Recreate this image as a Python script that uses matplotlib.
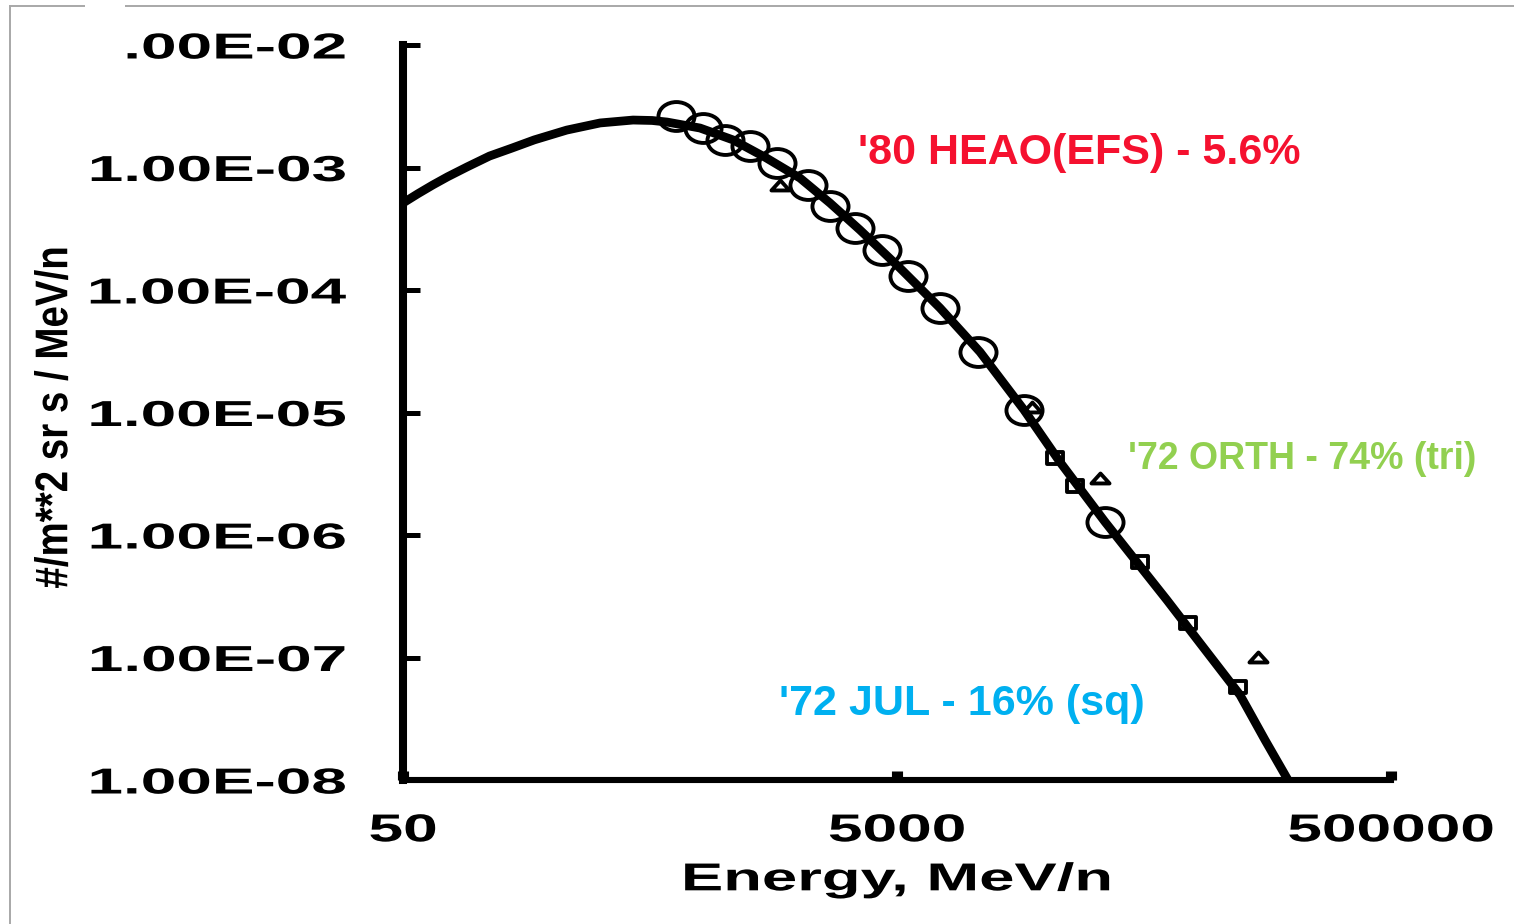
import numpy as np
import matplotlib
matplotlib.use("Agg")
import matplotlib.pyplot as plt
from matplotlib.path import Path
from matplotlib.patheffects import AbstractPathEffect
from matplotlib.transforms import Affine2D
from matplotlib.lines import Line2D
from matplotlib.patches import Rectangle

# ---------------- data ----------------
curve_E = [50, 57.4, 66.0, 75.8, 90.8, 112, 138, 170, 230, 314, 427, 510, 586,
           797, 1084, 1475, 2024, 2677, 3540, 5140, 7467, 10840, 16330, 22850,
           34760, 48150, 61950, 84300, 122400, 154500, 191400]
curve_F = [5.13e-4, 6.1e-4, 7.2e-4, 8.4e-4, 1.01e-3, 1.24e-3, 1.44e-3, 1.68e-3,
           2.02e-3, 2.31e-3, 2.44e-3, 2.42e-3, 2.35e-3, 2.1e-3, 1.68e-3, 1.2e-3,
           8.2e-4, 5.13e-4, 3.09e-4, 1.51e-4, 7.13e-5, 3.12e-5, 1.05e-5, 3.94e-6,
           1.28e-6, 5.58e-7, 2.94e-7, 1.31e-7, 4.94e-8, 2.12e-8, 1.0e-8]

heao_E = [637, 820, 1007, 1271, 1633, 2180, 2677, 3381, 4345, 5545, 7467, 10640,
          16330, 34760]
heao_F = [2.63e-3, 2.1e-3, 1.68e-3, 1.5e-3, 1.09e-3, 7.2e-4, 4.85e-4, 3.2e-4,
          2.12e-4, 1.3e-4, 7.1e-5, 3.12e-5, 1.05e-5, 1.28e-6]

orth_E = [1680, 17600, 33170, 144800]
orth_F = [7.2e-4, 1.11e-5, 2.9e-6, 1.01e-7]

jul_E = [21800, 26300, 48150, 75300, 120000]
jul_F = [4.25e-6, 2.5e-6, 6.0e-7, 1.9e-7, 5.75e-8]

x_ticks = [50, 5000, 500000]
x_ticklabels = ["50", "5000", "500000"]
y_ticks = [1e-2, 1e-3, 1e-4, 1e-5, 1e-6, 1e-7, 1e-8]
y_ticklabels = ["1.00E-02", "1.00E-03", "1.00E-04", "1.00E-05",
                "1.00E-06", "1.00E-07", "1.00E-08"]

x_title = "Energy, MeV/n"
y_title = "#/m**2 sr s / MeV/n"
notes = ["'80 HEAO(EFS) - 5.6%", "'72 ORTH - 74% (tri)", "'72 JUL - 16% (sq)"]
note_colors = ["#f5112f", "#92d050", "#00b0f0"]
note_sizes = [31, 27, 31]


# ---------------- helpers ----------------
class Stretch(AbstractPathEffect):
    """Stretch glyph outlines along the text direction (wide/narrow lettering)."""
    def __init__(self, factor, anchor="center", vertical=False):
        super().__init__()
        self.factor = factor
        self.anchor = anchor
        self.vertical = vertical

    def draw_path(self, renderer, gc, tpath, affine, rgbFace=None):
        ext = tpath.get_extents(affine)
        if self.vertical:
            c = (ext.y0 + ext.y1) / 2
            t = affine + Affine2D().translate(0, -c).scale(1, self.factor).translate(0, c)
        else:
            c = {"left": ext.x0, "right": ext.x1,
                 "center": (ext.x0 + ext.x1) / 2}[self.anchor]
            t = affine + Affine2D().translate(-c, 0).scale(self.factor, 1).translate(c, 0)
        renderer.draw_path(gc, tpath, t, rgbFace)


circ = Path.unit_circle()
ellipse_marker = Path(circ.vertices * np.array([1.0, 0.8]), circ.codes)
rect_marker = Path([(-1, -0.75), (1, -0.75), (1, 0.75), (-1, 0.75), (-1, -0.75)],
                   [Path.MOVETO, Path.LINETO, Path.LINETO, Path.LINETO, Path.CLOSEPOLY])
tri_marker = Path([(-1, -0.55), (1, -0.55), (0, 0.55), (-1, -0.55)],
                  [Path.MOVETO, Path.LINETO, Path.LINETO, Path.CLOSEPOLY])

# ---------------- figure ----------------
W, H = 1514, 924
fig = plt.figure(figsize=(W / 100, H / 100), dpi=100)
fig.patch.set_facecolor("white")

ax_l, ax_r, ax_b, ax_t = 403, 1391, 780, 45
ax = fig.add_axes([ax_l / W, 1 - ax_b / H, (ax_r - ax_l) / W, (ax_b - ax_t) / H])
ax.set_xscale("log")
ax.set_yscale("log")
ax.set_xlim(50, 500000)
ax.set_ylim(1e-8, 1e-2)

ax.plot(curve_E, curve_F, color="black", lw=6.3, solid_capstyle="butt",
        solid_joinstyle="round", zorder=3)
ax.plot(heao_E, heao_F, ls="none", marker=ellipse_marker, ms=26, mfc="none",
        mec="black", mew=2.8, zorder=4, clip_on=False)
ax.plot(orth_E, orth_F, ls="none", marker=tri_marker, ms=13, mfc="none",
        mec="black", mew=2.8, zorder=4, clip_on=False)
ax.plot(jul_E, jul_F, ls="none", marker=rect_marker, ms=12, mfc="none",
        mec="black", mew=2.8, zorder=4, clip_on=False)

# spines
for s in ("top", "right"):
    ax.spines[s].set_visible(False)
ax.spines["left"].set_linewidth(5.8)
ax.spines["bottom"].set_linewidth(4.4)

ax.minorticks_off()
ax.set_xticks(x_ticks)
ax.set_xticklabels(x_ticklabels)
ax.set_yticks(y_ticks)
ax.set_yticklabels(y_ticklabels)
ax.tick_params(axis="y", which="major", direction="in", length=12, width=3.6,
               pad=41, labelsize=26)
ax.tick_params(axis="x", which="major", direction="in", length=6.5, width=8,
               pad=24, labelsize=28)
ax.tick_params(which="minor", length=0)

for lab in ax.get_yticklabels():
    lab.set_fontfamily("Liberation Sans")
    lab.set_fontweight("bold")
    lab.set_path_effects([Stretch(1.77, "right")])
for lab in ax.get_xticklabels():
    lab.set_fontfamily("Liberation Sans")
    lab.set_fontweight("bold")
    lab.set_path_effects([Stretch(1.6, "center")])

ax.set_xlabel(x_title, fontfamily="Liberation Sans", fontweight="bold", fontsize=28,
              path_effects=[Stretch(1.63, "center")])
ax.xaxis.set_label_coords(0.5, -0.112)
ax.set_ylabel(y_title, fontfamily="Liberation Sans", fontweight="bold", fontsize=33,
              path_effects=[Stretch(0.84, vertical=True)])
ax.yaxis.label.set_verticalalignment("center")
ax.yaxis.set_label_coords(-0.352, (ax_b - 417) / (ax_b - ax_t))

# annotations (left x, baseline y in pixels -> axes fraction)
note_pos = [(858, 164), (1128, 469), (779, 715)]
for txt, col, fs, (px, py) in zip(notes, note_colors, note_sizes, note_pos):
    ax.text((px - ax_l) / (ax_r - ax_l), (ax_b - py) / (ax_b - ax_t), txt,
            transform=ax.transAxes, color=col, fontsize=fs, fontweight="bold",
            fontfamily="Liberation Sans", ha="left", va="baseline")

# scanned-page frame: thin gray border top/left, white patch at top-left
gray = "#a8a8a8"
fig.add_artist(Line2D([10 / W, 85 / W], [1 - 6 / H, 1 - 6 / H], color=gray, lw=1.4))
fig.add_artist(Line2D([125 / W, 1.0], [1 - 6 / H, 1 - 6 / H], color=gray, lw=1.4))
fig.add_artist(Line2D([10 / W, 10 / W], [0, 1 - 6 / H], color=gray, lw=1.4))
fig.add_artist(Rectangle((85 / W, 1 - 65 / H), 40 / W, 65 / H, transform=fig.transFigure,
                         facecolor="white", edgecolor="none", zorder=10))

fig.savefig("out.png", dpi=100, facecolor="white")
